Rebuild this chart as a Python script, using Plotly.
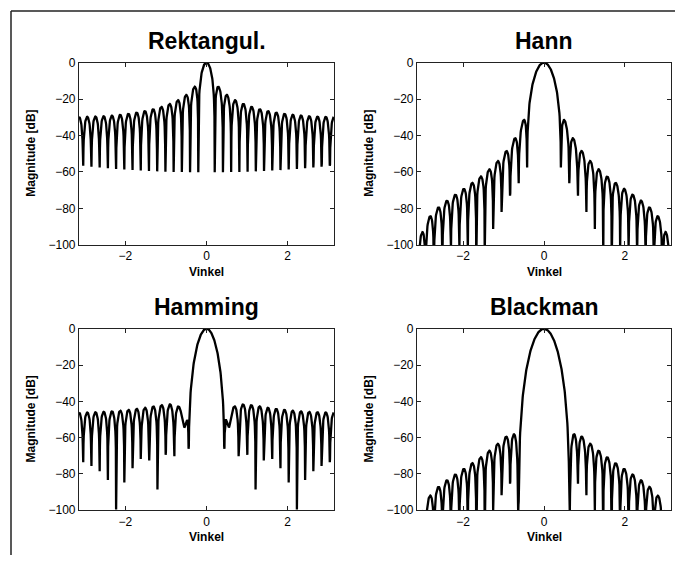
import numpy as np
import plotly.graph_objects as go

# ---------------- data: window coefficients (first half, n = 0..15 of a 31-point window)
RECT_HALF = [1.0, 1.0, 1.0, 1.0, 1.0, 1.0, 1.0, 1.0,
             1.0, 1.0, 1.0, 1.0, 1.0, 1.0, 1.0, 1.0]
HANN_HALF = [0.0, 0.0109262, 0.04322727, 0.0954915, 0.1654347, 0.25,
             0.3454915, 0.44773577, 0.55226423, 0.6545085, 0.75,
             0.8345653, 0.9045085, 0.95677273, 0.9890738, 1.0]
HAMMING_HALF = [0.08, 0.0900521, 0.11976909, 0.16785218, 0.23219992, 0.31,
                0.39785218, 0.49191691, 0.58808309, 0.68214782, 0.77,
                0.84780008, 0.91214782, 0.96023091, 0.9899479, 1.0]
BLACKMAN_HALF = [0.0, 0.00400984, 0.01675772, 0.04021286, 0.07707242, 0.13,
                 0.20077014, 0.28948396, 0.39401242, 0.50978714, 0.63,
                 0.74620302, 0.84922986, 0.93030318, 0.98215744, 1.0]

TITLES = ["Rektangul.", "Hann", "Hamming", "Blackman"]
X_TICKS = [-2, 0, 2]
Y_TICKS = [0, -20, -40, -60, -80, -100]
N_FFT = 1024

W, H = 675, 562


def full_window(half):
    return np.array(half + half[-2::-1], dtype=float)


def spectrum_db(w):
    spec = np.fft.fftshift(np.fft.fft(w, N_FFT))
    mag = np.abs(spec) / np.abs(spec).max()
    return 20 * np.log10(np.maximum(mag, 1e-12))


omega = np.fft.fftshift(np.fft.fftfreq(N_FFT)) * 2 * np.pi

windows = [RECT_HALF, HANN_HALF, HAMMING_HALF, BLACKMAN_HALF]

# pixel boxes (left, right, top, bottom)
boxes = [(79, 334, 57, 244), (417, 671, 57, 244),
         (79, 334, 330, 516), (417, 671, 330, 516)]

FONT = "Liberation Sans, Arial, Helvetica, sans-serif"

fig = go.Figure()
layout = dict(
    width=W, height=H,
    margin=dict(l=0, r=0, t=0, b=0),
    paper_bgcolor="white", plot_bgcolor="white",
    showlegend=False,
    font=dict(family=FONT, size=12, color="black"),
)
annotations = []
shapes = []

for i, (half, title, box) in enumerate(zip(windows, TITLES, boxes)):
    k = "" if i == 0 else str(i + 1)
    xa, ya = "x" + k, "y" + k
    left, right, top, bottom = box
    fig.add_trace(go.Scatter(
        x=omega, y=spectrum_db(full_window(half)),
        mode="lines", line=dict(color="black", width=2.3),
        xaxis=xa, yaxis=ya, hoverinfo="skip"))
    axis_common = dict(
        showline=True, linecolor="#222", linewidth=1.2, mirror="ticks",
        ticks="inside", ticklen=4, tickcolor="#222", tickwidth=1,
        showgrid=False, zeroline=False,
        tickfont=dict(family=FONT, size=12, color="black"),
    )
    layout["xaxis" + k] = dict(
        axis_common, domain=[left / W, right / W], range=[-np.pi, np.pi],
        tickvals=X_TICKS, anchor=ya)
    layout["yaxis" + k] = dict(
        axis_common, domain=[1 - bottom / H, 1 - top / H], range=[-100, 0],
        tickvals=Y_TICKS, anchor=xa)
    cx = (left + right) / 2
    annotations.append(dict(
        text="<b>" + title + "</b>", x=cx / W, y=1 - (top - 22) / H,
        xref="paper", yref="paper", xanchor="center", yanchor="middle",
        showarrow=False, font=dict(family=FONT, size=23, color="black")))
    annotations.append(dict(
        text="<b>Vinkel</b>", x=cx / W, y=1 - (bottom + 28) / H,
        xref="paper", yref="paper", xanchor="center", yanchor="middle",
        showarrow=False, font=dict(family=FONT, size=12, color="black")))
    annotations.append(dict(
        text="<b>Magnitude [dB]</b>", x=(left - 48) / W,
        y=1 - (top + bottom) / 2 / H,
        xref="paper", yref="paper", xanchor="center", yanchor="middle",
        textangle=-90, showarrow=False,
        font=dict(family=FONT, size=12, color="black")))

# outer frame lines (top and left)
shapes.append(dict(type="line", xref="paper", yref="paper",
                   x0=11 / W, x1=1.0, y0=1 - 4 / H, y1=1 - 4 / H,
                   line=dict(color="#222", width=1.5)))
shapes.append(dict(type="line", xref="paper", yref="paper",
                   x0=11 / W, x1=11 / W, y0=1 - 4 / H, y1=0,
                   line=dict(color="#222", width=1.5)))

layout["annotations"] = annotations
layout["shapes"] = shapes
fig.update_layout(**layout)
fig.write_html(
    "out.html",
    config={"displayModeBar": False},
    post_script=(
        "document.documentElement.style.margin='0';"
        "document.documentElement.style.padding='0';"
        "document.documentElement.style.overflow='hidden';"
        "document.body.style.margin='0';"
        "document.body.style.padding='0';"
        "document.body.style.overflow='hidden';"
        "var gd=document.getElementById('{plot_id}');"
        "gd.style.position='fixed';gd.style.left='0px';gd.style.top='0px';"
    ),
)
